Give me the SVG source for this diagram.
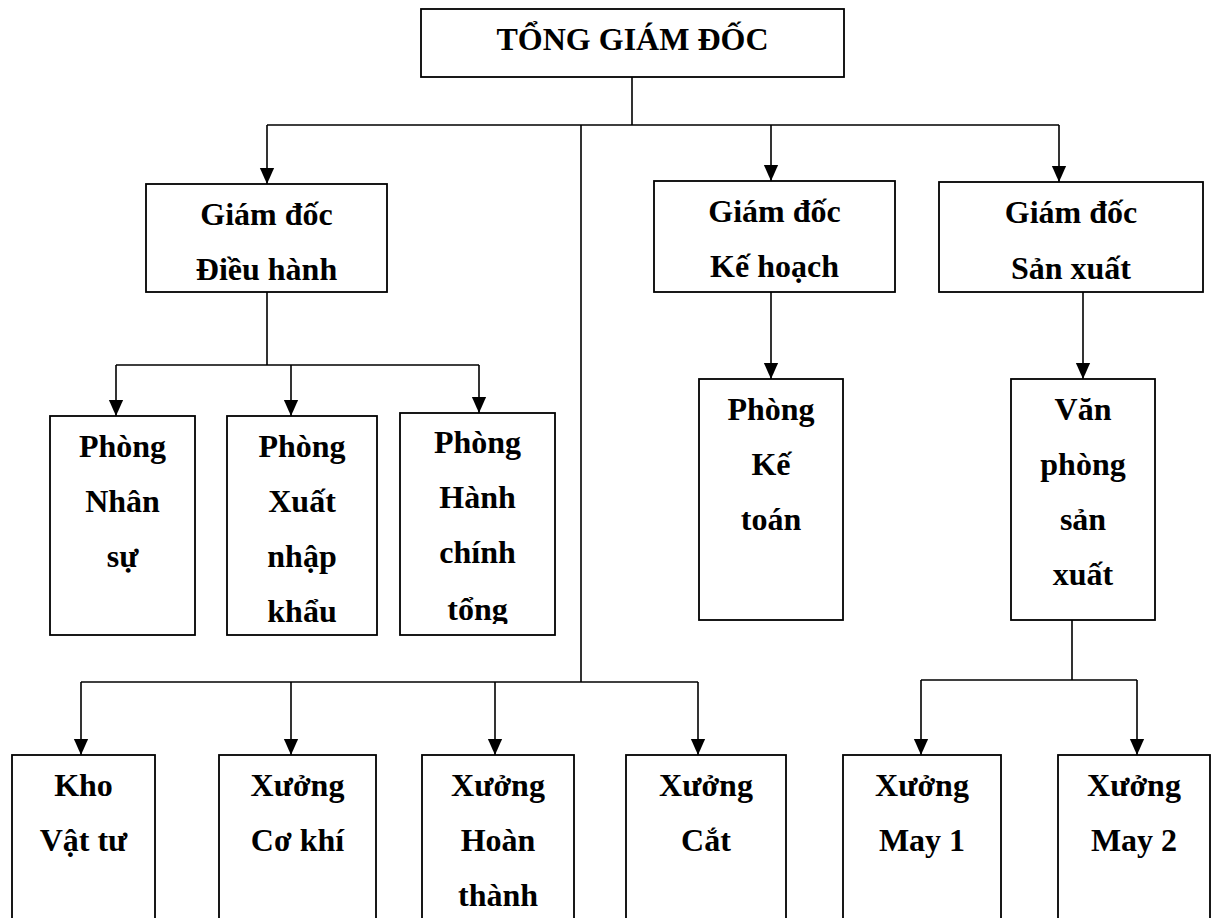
<svg xmlns="http://www.w3.org/2000/svg" width="1212" height="918" viewBox="0 0 1212 918">
<style>
.box{fill:#fff;stroke:#000;stroke-width:1.8}
.t{font-family:"Liberation Serif","Times New Roman",serif;font-weight:bold;font-size:32px;fill:#000;text-anchor:middle}
.c{fill:none;stroke:#000;stroke-width:1.6}
.a{fill:none;stroke:#000;stroke-width:1.6;marker-end:url(#arr)}
</style>
<defs>
<marker id="arr" markerUnits="userSpaceOnUse" markerWidth="16" markerHeight="18" viewBox="0 0 18 16" refX="18" refY="8" orient="auto">
<path d="M0,0 L18,8 L0,16 Z" fill="#000"/>
</marker>
<clipPath id="clipHC"><rect x="400" y="413" width="155" height="211"/></clipPath>
</defs>
<rect width="1212" height="918" fill="#fff"/>
<g id="connectors">
<path class="c" d="M632,77 V125 M267,125 H1059 M581,125 V682"/>
<path class="a" d="M267,125 V184"/>
<path class="a" d="M771,125 V181"/>
<path class="a" d="M1059,125 V182"/>
<path class="c" d="M267,292 V365 M116,365 H479"/>
<path class="a" d="M116,365 V416"/>
<path class="a" d="M291,365 V416"/>
<path class="a" d="M479,365 V413"/>
<path class="a" d="M771,292 V379"/>
<path class="a" d="M1083,292 V379"/>
<path class="c" d="M81,682 H698"/>
<path class="a" d="M81,682 V755"/>
<path class="a" d="M291,682 V755"/>
<path class="a" d="M495,682 V755"/>
<path class="a" d="M698,682 V755"/>
<path class="c" d="M1072,620 V680 M921,680 H1137"/>
<path class="a" d="M921,680 V755"/>
<path class="a" d="M1137,680 V755"/>
</g>
<g id="tong-giam-doc">
<rect class="box" x="421" y="9" width="423" height="68"/>
<text class="t" x="632.5" y="50">TỔNG GIÁM ĐỐC</text>
</g>
<g id="gd-dieu-hanh">
<rect class="box" x="146" y="184" width="241" height="108"/>
<text class="t" x="266.5" y="225">Giám đốc</text>
<text class="t" x="266.5" y="280">Điều hành</text>
</g>
<g id="gd-ke-hoach">
<rect class="box" x="654" y="181" width="241" height="111"/>
<text class="t" x="774.5" y="222">Giám đốc</text>
<text class="t" x="774.5" y="277">Kế hoạch</text>
</g>
<g id="gd-san-xuat">
<rect class="box" x="939" y="182" width="264" height="110"/>
<text class="t" x="1071" y="223">Giám đốc</text>
<text class="t" x="1071" y="279">Sản xuất</text>
</g>
<g id="phong-nhan-su">
<rect class="box" x="50" y="416" width="145" height="219"/>
<text class="t" x="122.5" y="457">Phòng</text>
<text class="t" x="122.5" y="512">Nhân</text>
<text class="t" x="122.5" y="567">sự</text>
</g>
<g id="phong-xnk">
<rect class="box" x="227" y="416" width="150" height="219"/>
<text class="t" x="302" y="457">Phòng</text>
<text class="t" x="302" y="512">Xuất</text>
<text class="t" x="302" y="567">nhập</text>
<text class="t" x="302" y="622">khẩu</text>
</g>
<g id="phong-hanh-chinh">
<rect class="box" x="400" y="413" width="155" height="222"/>
<g clip-path="url(#clipHC)">
<text class="t" x="477.5" y="453">Phòng</text>
<text class="t" x="477.5" y="508">Hành</text>
<text class="t" x="477.5" y="563">chính</text>
<text class="t" x="477.5" y="620">tổng</text>
</g>
</g>
<g id="phong-ke-toan">
<rect class="box" x="699" y="379" width="144" height="241"/>
<text class="t" x="771" y="420">Phòng</text>
<text class="t" x="771" y="475">Kế</text>
<text class="t" x="771" y="530">toán</text>
</g>
<g id="van-phong-san-xuat">
<rect class="box" x="1011" y="379" width="144" height="241"/>
<text class="t" x="1083" y="420">Văn</text>
<text class="t" x="1083" y="475">phòng</text>
<text class="t" x="1083" y="530">sản</text>
<text class="t" x="1083" y="585">xuất</text>
</g>
<g id="kho-vat-tu">
<rect class="box" x="12" y="755" width="143" height="180"/>
<text class="t" x="83.5" y="796">Kho</text>
<text class="t" x="83.5" y="851">Vật tư</text>
</g>
<g id="xuong-co-khi">
<rect class="box" x="219" y="755" width="157" height="180"/>
<text class="t" x="297.5" y="796">Xưởng</text>
<text class="t" x="297.5" y="851">Cơ khí</text>
</g>
<g id="xuong-hoan-thanh">
<rect class="box" x="422" y="755" width="152" height="180"/>
<text class="t" x="498" y="796">Xưởng</text>
<text class="t" x="498" y="851">Hoàn</text>
<text class="t" x="498" y="906">thành</text>
</g>
<g id="xuong-cat">
<rect class="box" x="626" y="755" width="160" height="180"/>
<text class="t" x="706" y="796">Xưởng</text>
<text class="t" x="706" y="851">Cắt</text>
</g>
<g id="xuong-may-1">
<rect class="box" x="843" y="755" width="158" height="180"/>
<text class="t" x="922" y="796">Xưởng</text>
<text class="t" x="922" y="851">May 1</text>
</g>
<g id="xuong-may-2">
<rect class="box" x="1058" y="755" width="152" height="180"/>
<text class="t" x="1134" y="796">Xưởng</text>
<text class="t" x="1134" y="851">May 2</text>
</g>
</svg>
